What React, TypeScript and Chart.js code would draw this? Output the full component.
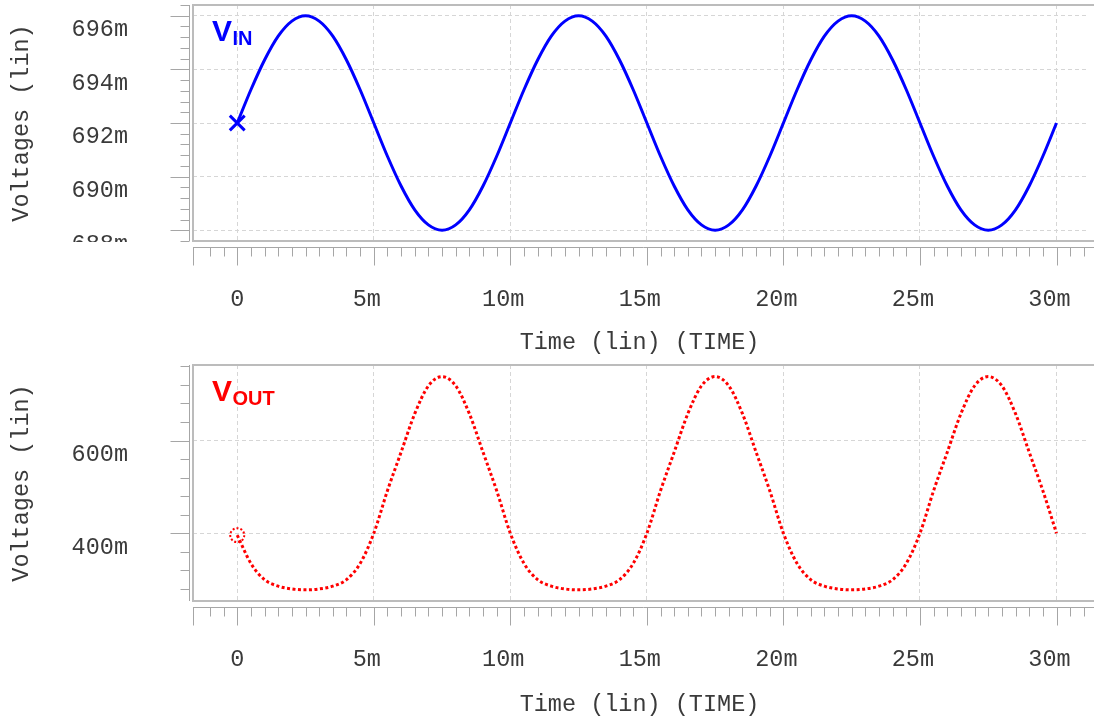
import React, { useEffect, useRef } from 'react';
import { Chart, registerables } from 'chart.js';

Chart.register(...registerables);

// ---- data (time in ms, voltages in mV) ----
const timeMs = [
  0, 0.5, 1, 1.5, 2, 2.5, 3, 3.5, 4, 4.5,
  5, 5.5, 6, 6.5, 7, 7.5, 8, 8.5, 9, 9.5,
  10, 10.5, 11, 11.5, 12, 12.5, 13, 13.5, 14, 14.5,
  15, 15.5, 16, 16.5, 17, 17.5, 18, 18.5, 19, 19.5,
  20, 20.5, 21, 21.5, 22, 22.5, 23, 23.5, 24, 24.5,
  25, 25.5, 26, 26.5, 27, 27.5, 28, 28.5, 29, 29.5,
  30,
];

const vinMilliVolts = [
  692.0, 693.24, 694.35, 695.24, 695.8, 696.0, 695.8, 695.24, 694.35, 693.24,
  692.0, 690.76, 689.65, 688.76, 688.2, 688.0, 688.2, 688.76, 689.65, 690.76,
  692.0, 693.24, 694.35, 695.24, 695.8, 696.0, 695.8, 695.24, 694.35, 693.24,
  692.0, 690.76, 689.65, 688.76, 688.2, 688.0, 688.2, 688.76, 689.65, 690.76,
  692.0, 693.24, 694.35, 695.24, 695.8, 696.0, 695.8, 695.24, 694.35, 693.24,
  692.0, 690.76, 689.65, 688.76, 688.2, 688.0, 688.2, 688.76, 689.65, 690.76,
  692.0,
];

const voutMilliVolts = [
  396, 335, 300, 286, 280, 278, 280, 286, 300, 335,
  400, 492, 575, 658, 718, 738, 718, 658, 575, 492,
  400, 335, 300, 286, 280, 278, 280, 286, 300, 335,
  400, 492, 575, 658, 718, 738, 718, 658, 575, 492,
  400, 335, 300, 286, 280, 278, 280, 286, 300, 335,
  400, 492, 575, 658, 718, 738, 718, 658, 575, 492,
  400,
];

const timeTicks = [0, 5, 10, 15, 20, 25, 30];
const timeTickLabels = ['0', '5m', '10m', '15m', '20m', '25m', '30m'];
const vinTicks = [688, 690, 692, 694, 696];
const vinTickLabels = ['688m', '690m', '692m', '694m', '696m'];
const voutTicks = [400, 600];
const voutTickLabels = ['400m', '600m'];

// ---- styling ----
const MONO = '"Liberation Mono", "DejaVu Sans Mono", monospace';
const TEXT_COLOR = '#3a3a3a';
const GRID_COLOR = '#d6d6d6';
const CANVAS_W = 1094;

type PanelSpec = {
  height: number;
  padTop: number;
  xAxisHeight: number;
  xTitlePadBottom: number;
  yMin: number;
  yMax: number;
  yTicks: number[];
  yLabels: string[];
  yMinorStep: number;
  values: number[];
  color: string;
  dotted: boolean;
  main: string;
  sub: string;
  clipBelow: boolean;
  ring: boolean;
};

function zeroPadding(s: any) {
  s.paddingTop = 0;
  s.paddingBottom = 0;
  s.paddingLeft = 0;
  s.paddingRight = 0;
}

function makeDecor(d: PanelSpec) {
  return {
    id: 'spiceDecor',
    afterDatasetsDraw(chart: any) {
      if (!d.ring) return;
      const ctx = chart.ctx;
      const pt = chart.getDatasetMeta(0).data[0];
      ctx.save();
      ctx.strokeStyle = d.color;
      ctx.lineWidth = 2;
      ctx.setLineDash([2, 2]);
      ctx.beginPath();
      ctx.arc(pt.x, pt.y, 7, 0, Math.PI * 2);
      ctx.stroke();
      ctx.restore();
    },
    afterDraw(chart: any) {
      const { ctx, chartArea: a, scales } = chart;
      const xs = scales.x;
      const ys = scales.y;
      const W = chart.width;
      ctx.save();
      ctx.setLineDash([]);
      if (d.clipBelow) {
        ctx.fillStyle = '#ffffff';
        ctx.fillRect(30, a.bottom + 1, a.left - 30 - 26, 40);
      }
      // frame
      ctx.strokeStyle = '#bcbcbc';
      ctx.lineWidth = 2;
      ctx.beginPath();
      ctx.moveTo(W, a.top);
      ctx.lineTo(a.left, a.top);
      ctx.lineTo(a.left, a.bottom);
      ctx.lineTo(W, a.bottom);
      ctx.stroke();

      // rulers
      ctx.strokeStyle = '#a6a6a6';
      ctx.lineWidth = 1;
      ctx.beginPath();
      const rx = Math.round(a.left - 4) + 0.5;
      ctx.moveTo(rx, a.top);
      ctx.lineTo(rx, a.bottom);
      const kStart = Math.ceil(ys.min / d.yMinorStep - 1e-6);
      for (let k = kStart; k * d.yMinorStep <= ys.max + 1e-6; k++) {
        const v = k * d.yMinorStep;
        const py = Math.round(ys.getPixelForValue(v)) + 0.5;
        const major = d.yTicks.some((m) => Math.abs(m - v) < 1e-6);
        ctx.moveTo(rx - (major ? 19 : 9), py);
        ctx.lineTo(rx, py);
      }
      const ry = Math.round(a.bottom + 6) + 0.5;
      ctx.moveTo(a.left, ry);
      ctx.lineTo(W, ry);
      ctx.moveTo(Math.round(a.left) + 0.5, ry);
      ctx.lineTo(Math.round(a.left) + 0.5, ry + 18);
      const xEnd = xs.getValueForPixel(W);
      for (let k = Math.ceil(xs.min / 0.5); k * 0.5 <= xEnd; k++) {
        const px = Math.round(xs.getPixelForValue(k * 0.5)) + 0.5;
        if (px < a.left + 4) continue;
        const major = k % 10 === 0;
        ctx.moveTo(px, ry);
        ctx.lineTo(px, ry + (major ? 18 : 9));
      }
      ctx.stroke();

      // series label
      ctx.fillStyle = d.color;
      ctx.textAlign = 'left';
      ctx.textBaseline = 'alphabetic';
      ctx.font = 'bold 30px "Liberation Sans", Arial, sans-serif';
      const lx = a.left + 19;
      const ly = a.top + 36;
      ctx.fillText(d.main, lx, ly);
      const w = ctx.measureText(d.main).width;
      ctx.font = 'bold 20px "Liberation Sans", Arial, sans-serif';
      ctx.fillText(d.sub, lx + w + 0.5, ly + 4);
      ctx.restore();
    },
  };
}

function buildConfig(d: PanelSpec): any {
  const points = timeMs.map((t, i) => ({ x: t, y: d.values[i] }));
  const tickFont = { family: MONO, size: 23.5 };
  const titleFont = { family: MONO, size: 23.5, lineHeight: 1 };
  return {
    type: 'line',
    data: {
      datasets: [
        {
          data: points,
          borderColor: d.color,
          borderWidth: 3,
          borderDash: d.dotted ? [3, 2.5] : [],
          borderCapStyle: 'butt',
          fill: false,
          cubicInterpolationMode: 'monotone',
          pointStyle: 'crossRot',
          pointRadius: (c: any) => (!d.ring && c.dataIndex === 0 ? 10.5 : 0),
          pointBorderColor: d.color,
          pointBorderWidth: 3,
          pointHoverRadius: 0,
          clip: 12,
        },
      ],
    },
    options: {
      responsive: false,
      animation: false,
      events: [],
      layout: { autoPadding: false, padding: { top: d.padTop, right: 8, bottom: 0, left: 0 } },
      plugins: { legend: { display: false }, tooltip: { enabled: false } },
      scales: {
        x: {
          type: 'linear',
          position: 'bottom',
          min: -1.62,
          max: 31.08,
          bounds: 'data',
          afterBuildTicks: (s: any) => {
            s.ticks = timeTicks.map((v) => ({ value: v }));
          },
          afterFit: (s: any) => {
            s.height = d.xAxisHeight;
            zeroPadding(s);
          },
          ticks: {
            autoSkip: false,
            maxRotation: 0,
            padding: 45,
            color: TEXT_COLOR,
            font: tickFont,
            callback: (_v: any, i: number) =>
              timeTickLabels[i] === '0' ? timeTickLabels[i] : timeTickLabels[i] + ' ',
          },
          grid: { drawTicks: false, color: GRID_COLOR, lineWidth: 1 },
          border: { display: false, dash: [4, 3] },
          title: {
            display: true,
            text: 'Time (lin) (TIME)',
            color: TEXT_COLOR,
            font: titleFont,
            padding: { top: 0, bottom: d.xTitlePadBottom },
          },
        },
        y: {
          type: 'linear',
          position: 'left',
          min: d.yMin,
          max: d.yMax,
          bounds: 'data',
          afterBuildTicks: (s: any) => {
            s.ticks = d.yTicks.map((v) => ({ value: v }));
          },
          afterFit: (s: any) => {
            s.width = 193;
            zeroPadding(s);
          },
          ticks: {
            autoSkip: false,
            padding: 65,
            color: TEXT_COLOR,
            font: tickFont,
            callback: (_v: any, i: number) => ['', d.yLabels[i]],
          },
          grid: { drawTicks: false, color: GRID_COLOR, lineWidth: 1 },
          border: { display: false, dash: [4, 3] },
          title: {
            display: true,
            text: 'Voltages (lin)',
            color: TEXT_COLOR,
            font: titleFont,
            padding: { top: 10, bottom: 0 },
          },
        },
      },
    },
    plugins: [makeDecor(d)],
  };
}

const topPanel: PanelSpec = {
  height: 358,
  padTop: 5,
  xAxisHeight: 117,
  xTitlePadBottom: 3,
  yMin: 687.6,
  yMax: 696.4,
  yTicks: vinTicks,
  yLabels: vinTickLabels,
  yMinorStep: 0.4,
  values: vinMilliVolts,
  color: '#0000ff',
  dotted: false,
  main: 'V',
  sub: 'IN',
  clipBelow: true,
  ring: false,
};

const bottomPanel: PanelSpec = {
  height: 359,
  padTop: 7,
  xAxisHeight: 116,
  xTitlePadBottom: 0,
  yMin: 254,
  yMax: 763,
  yTicks: voutTicks,
  yLabels: voutTickLabels,
  yMinorStep: 40,
  values: voutMilliVolts,
  color: '#ff0000',
  dotted: true,
  main: 'V',
  sub: 'OUT',
  clipBelow: false,
  ring: true,
};

function Panel({ spec, top }: { spec: PanelSpec; top: number }) {
  const ref = useRef<HTMLCanvasElement | null>(null);
  useEffect(() => {
    if (!ref.current) return;
    const chart = new Chart(ref.current, buildConfig(spec));
    return () => chart.destroy();
  }, [spec]);
  return (
    <canvas
      ref={ref}
      width={CANVAS_W}
      height={spec.height}
      style={{ position: 'absolute', left: 0, top, width: CANVAS_W, height: spec.height }}
    />
  );
}

export default function App() {
  return (
    <div
      style={{
        position: 'fixed',
        left: 0,
        top: 0,
        width: CANVAS_W,
        height: 717,
        background: '#ffffff',
        overflow: 'hidden',
      }}
    >
      <Panel spec={topPanel} top={0} />
      <Panel spec={bottomPanel} top={358} />
    </div>
  );
}
